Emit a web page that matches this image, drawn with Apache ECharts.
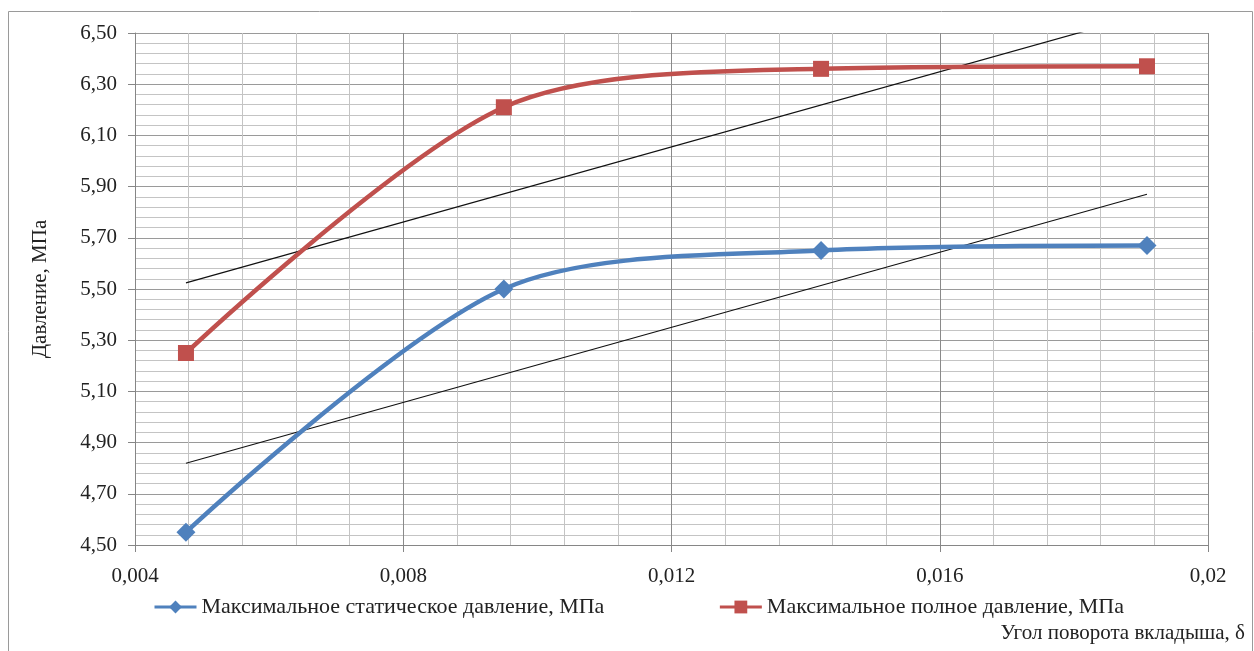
<!DOCTYPE html>
<html>
<head>
<meta charset="utf-8">
<script src="https://cdn.jsdelivr.net/npm/echarts@6/dist/echarts.min.js"></script>
<style>
html,body{margin:0;padding:0;background:#fff;}
#c{width:1254px;height:651px;}
</style>
</head>
<body>
<div id="c"></div>
<script>
var angles = [0.00476, 0.0095, 0.01423, 0.01909];
var staticP = [4.55, 5.50, 5.65, 5.67];
var fullP = [5.25, 6.21, 6.36, 6.37];
var xTickLabels = ['0,004', '0,008', '0,012', '0,016', '0,02'];
var staticName = 'Максимальное статическое давление, МПа';
var fullName = 'Максимальное полное давление, МПа';

function trend(xs, ys) {
  var n = xs.length, mx = 0, my = 0;
  for (var i = 0; i < n; i++) { mx += xs[i]; my += ys[i]; }
  mx /= n; my /= n;
  var sxy = 0, sxx = 0;
  for (var j = 0; j < n; j++) { sxy += (xs[j]-mx)*(ys[j]-my); sxx += (xs[j]-mx)*(xs[j]-mx); }
  var b = sxy / sxx, a = my - b*mx;
  return [[xs[0], a + b*xs[0]], [xs[n-1], a + b*xs[n-1]]];
}
function pairs(xs, ys) { return xs.map(function(x, i){ return [x, ys[i]]; }); }

var font = '"Liberation Serif", "Times New Roman", serif';
var chart = echarts.init(document.getElementById('c'));
chart.setOption({
  animation: false,
  textStyle: { fontFamily: font },
  grid: { left: 135, right: 46, top: 33, bottom: 106 },
  xAxis: {
    type: 'value', min: 0.004, max: 0.02, interval: 0.004,
    axisLine: { show: true, lineStyle: { color: '#868686' } },
    axisTick: { show: true, length: 7, lineStyle: { color: '#868686' } },
    axisLabel: { margin: 21, fontSize: 21, color: '#222', fontFamily: font,
      formatter: function(v){ return xTickLabels[Math.round((v - 0.004)/0.004)]; } },
    splitLine: { show: true, lineStyle: { color: '#8a8a8a', width: 1 } },
    minorTick: { show: false, splitNumber: 5 },
    minorSplitLine: { show: true, lineStyle: { color: '#c4c4c4', width: 1 } }
  },
  yAxis: {
    type: 'value', min: 4.5, max: 6.5, interval: 0.2,
    name: 'Давление, МПа', nameLocation: 'middle', nameGap: 84,
    nameTextStyle: { fontSize: 21, color: '#222', fontFamily: font },
    axisLine: { show: true, lineStyle: { color: '#868686' } },
    axisTick: { show: true, length: 7, lineStyle: { color: '#868686' } },
    axisLabel: { margin: 18, fontSize: 21, color: '#222', fontFamily: font,
      formatter: function(v){ return v.toFixed(2).replace('.', ','); } },
    splitLine: { show: true, lineStyle: { color: '#9a9a9a', width: 1 } },
    minorTick: { show: false, splitNumber: 5 },
    minorSplitLine: { show: true, lineStyle: { color: '#c4c4c4', width: 1 } }
  },
  legend: {
    data: [staticName, fullName],
    left: 148, top: 591, itemWidth: 42, itemHeight: 16, itemGap: 114,
    lineStyle: { width: 3 },
    textStyle: { fontSize: 22, color: '#222', fontFamily: font }
  },
  graphic: [
    { type: 'rect', shape: { x: 8.5, y: 11.5, width: 1244, height: 660 },
      style: { fill: 'none', stroke: '#9a9a9a', lineWidth: 1 }, silent: true },
    { type: 'text', right: 9, top: 623,
      style: { text: 'Угол поворота вкладыша, δ', font: '21px ' + font, fill: '#222' } }
  ],
  series: [
    { name: staticName, type: 'line', smooth: 0.3, data: pairs(angles, staticP),
      symbol: 'diamond', symbolSize: 19,
      lineStyle: { color: '#4F81BD', width: 4.5 }, itemStyle: { color: '#4F81BD' } },
    { name: fullName, type: 'line', smooth: 0.3, data: pairs(angles, fullP),
      symbol: 'rect', symbolSize: 16,
      lineStyle: { color: '#C0504D', width: 4.5 }, itemStyle: { color: '#C0504D' } },
    { name: 'trend1', type: 'line', data: trend(angles, staticP), symbol: 'none',
      lineStyle: { color: '#111', width: 1.2 }, silent: true, z: 1 },
    { name: 'trend2', type: 'line', data: trend(angles, fullP), symbol: 'none', clip: true,
      lineStyle: { color: '#111', width: 1.2 }, silent: true, z: 1 }
  ]
});
</script>
</body>
</html>
